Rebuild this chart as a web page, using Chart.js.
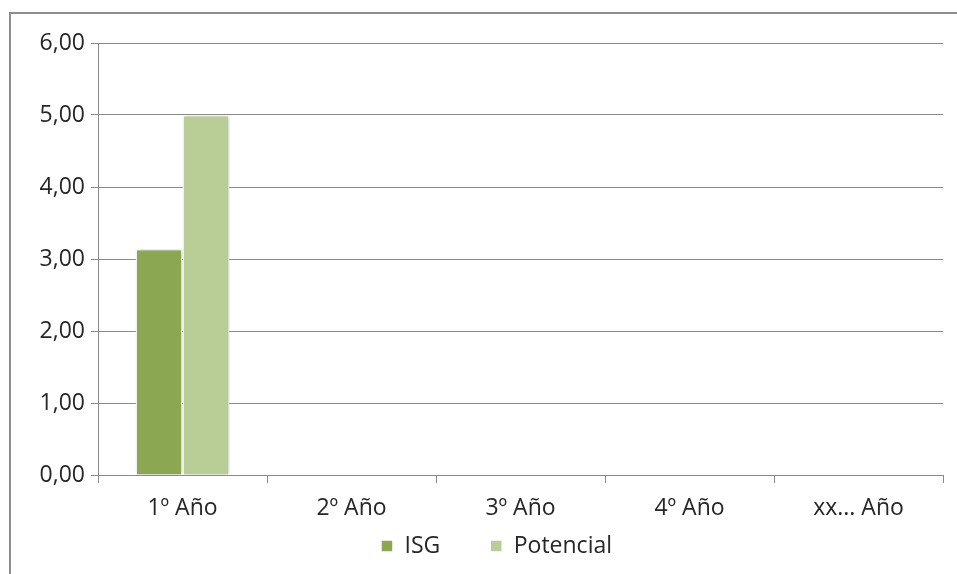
<!DOCTYPE html>
<html>
<head>
<meta charset="utf-8">
<script src="https://cdn.jsdelivr.net/npm/chart.js@4/dist/chart.umd.min.js"></script>
<style>
  html, body { margin: 0; padding: 0; background: #ffffff; }
  #wrap { position: relative; width: 957px; height: 574px; overflow: hidden; }
  #frame { position: absolute; left: 9px; top: 12px; width: 1000px; height: 700px;
           border-top: 2px solid #8c8c8c; border-left: 2px solid #8c8c8c; }
  #chart { position: absolute; left: 0; top: 0; }
</style>
</head>
<body>
<div id="wrap">
  <div id="frame"></div>
  <canvas id="chart" width="957" height="574"></canvas>
</div>
<script>
// Years on the horizontal axis
const categories = ['1º Año', '2º Año', '3º Año', '4º Año', 'xx... Año'];
// Scores per year (only the first year is filled in)
const isgValues = [3.14, null, null, null, null];
const potencialValues = [5.00, null, null, null, null];
// Value axis range
const yMin = 0;
const yMax = 6;
const yStep = 1;

const FONT = { family: '"Open Sans", "Liberation Sans", sans-serif', size: 23 };
const TEXT = '#262626';
const LINE = '#8a8a8a';

// soft shadow behind the bars
const barShadow = {
  id: 'barShadow',
  beforeDatasetsDraw(chart) {
    const c = chart.ctx;
    c.save();
    c.shadowColor = 'rgba(0,0,0,0.22)';
    c.shadowBlur = 4;
    c.shadowOffsetX = 1;
    c.shadowOffsetY = 0;
  },
  afterDatasetsDraw(chart) {
    chart.ctx.restore();
  }
};

// place the legend row just under the category labels
const legendPlacement = {
  id: 'legendPlacement',
  afterLayout(chart) {
    const lg = chart.legend;
    if (!lg) return;
    lg.top = 484.5;
    lg.bottom = chart.height;
    lg.height = lg.bottom - lg.top;
    lg.left += 10; lg.right += 10;
  }
};

new Chart(document.getElementById('chart'), {
  type: 'bar',
  data: {
    labels: categories,
    datasets: [
      { label: 'ISG', data: isgValues, backgroundColor: '#8ca752',
        borderColor: '#ffffff', borderWidth: 1.5 },
      { label: 'Potencial', data: potencialValues, backgroundColor: '#b9cd96',
        borderColor: '#ffffff', borderWidth: 1.5 }
    ]
  },
  options: {
    responsive: false,
    animation: false,
    events: [],
    layout: { padding: { left: 30, right: 14, top: 43, bottom: 12 } },
    datasets: { bar: { categoryPercentage: 0.556, barPercentage: 1.0 } },
    scales: {
      x: {
        offset: true,
        grid: { offset: true, drawOnChartArea: false, drawTicks: true, tickLength: 8,
                color: LINE, lineWidth: 1 },
        border: { display: true, color: LINE, width: 1 },
        ticks: { color: TEXT, font: FONT, padding: 12, maxRotation: 0, autoSkip: false },
        afterFit(scale) { scale.height = 47; }
      },
      y: {
        min: yMin, max: yMax,
        grid: { color: LINE, lineWidth: 1, tickLength: 7, drawTicks: true },
        border: { display: true, color: LINE, width: 1 },
        ticks: { stepSize: yStep, color: TEXT, font: FONT, padding: 6,
                 callback: v => Number(v).toFixed(2).replace('.', ',') },
        afterFit(scale) { scale.width = 68; }
      }
    },
    plugins: {
      legend: {
        position: 'bottom',
        maxHeight: 40,
        labels: { color: TEXT, font: FONT, boxWidth: 12, boxHeight: 12, padding: 50 }
      },
      tooltip: { enabled: false },
      title: { display: false }
    }
  },
  plugins: [barShadow, legendPlacement]
});
</script>
</body>
</html>
